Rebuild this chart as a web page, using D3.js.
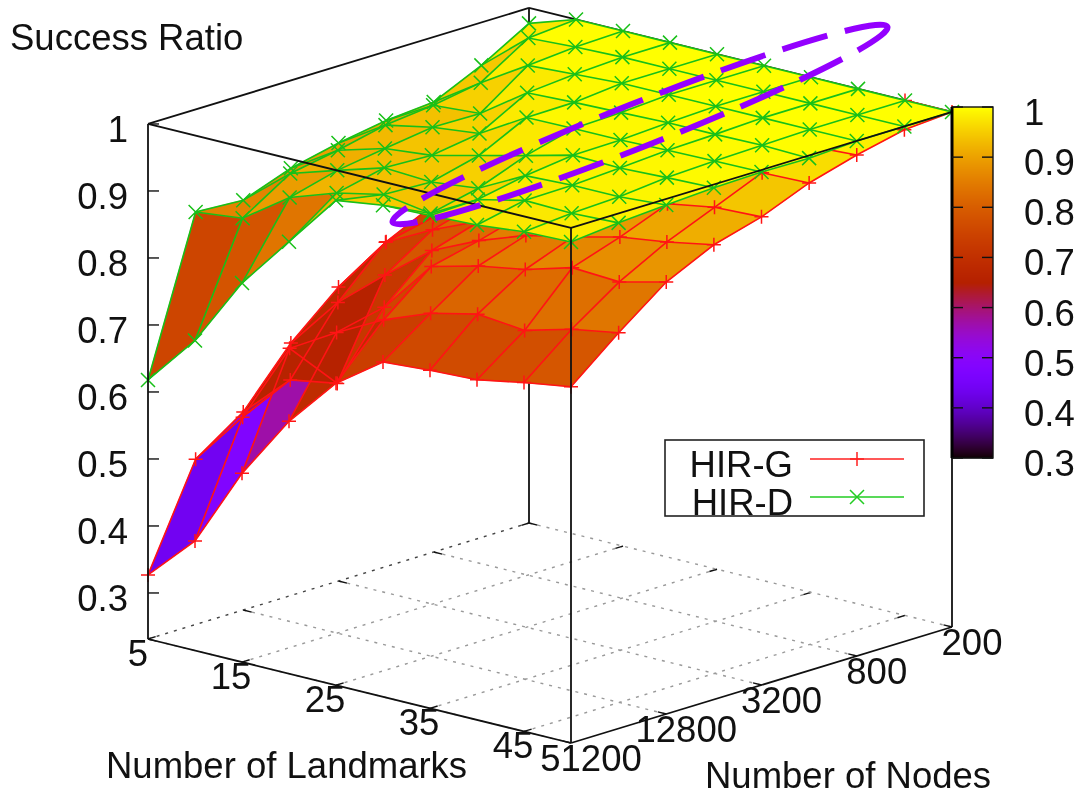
<!DOCTYPE html>
<html>
<head>
<meta charset="utf-8">
<script src="https://cdn.jsdelivr.net/npm/d3@7"></script>
<style>
  html, body { margin: 0; background: #fff; }
  svg { filter: blur(0.4px); }
  text { font-family: "Liberation Sans", Arial, sans-serif; fill: #111; font-size: 36.5px; }
</style>
</head>
<body>
<svg width="1087" height="801"></svg>
<script>
const landmarks = [5, 10, 15, 20, 25, 30, 35, 40, 45, 50]
const nodes = [51200, 25600, 12800, 6400, 3200, 1600, 800, 400, 200]

const landmarkTicks = [5, 15, 25, 35, 45]
const nodeTicks = [51200, 12800, 3200, 800, 200]
const zTicks = [0.3, 0.4, 0.5, 0.6, 0.7, 0.8, 0.9, 1]

// one row per landmark count, columns follow nodes
const hirG = [
  [0.327, 0.478, 0.527, 0.608, 0.670, 0.716, 0.750, 0.790, 0.830],
  [0.395, 0.558, 0.592, 0.686, 0.754, 0.770, 0.800, 0.840, 0.870],
  [0.513, 0.678, 0.604, 0.744, 0.790, 0.810, 0.840, 0.880, 0.910],
  [0.608, 0.719, 0.735, 0.798, 0.820, 0.840, 0.870, 0.900, 0.930],
  [0.682, 0.755, 0.813, 0.830, 0.850, 0.870, 0.900, 0.930, 0.950],
  [0.731, 0.782, 0.831, 0.855, 0.875, 0.900, 0.920, 0.950, 0.970],
  [0.736, 0.798, 0.843, 0.870, 0.890, 0.915, 0.940, 0.960, 0.980],
  [0.739, 0.791, 0.863, 0.887, 0.915, 0.940, 0.960, 0.975, 0.990],
  [0.752, 0.810, 0.859, 0.897, 0.927, 0.957, 0.975, 0.990, 1.000],
  [0.763, 0.822, 0.876, 0.910, 0.930, 0.959, 0.979, 0.995, 1.000]
]

const hirD = [
  [0.618, 0.847, 0.843, 0.869, 0.885, 0.897, 0.903, 0.936, 0.977],
  [0.694, 0.855, 0.900, 0.913, 0.929, 0.937, 0.949, 0.994, 1.000],
  [0.797, 0.903, 0.922, 0.933, 0.943, 0.942, 0.992, 0.998, 1.000],
  [0.876, 0.927, 0.943, 0.940, 0.951, 0.990, 0.996, 1.000, 1.000],
  [0.955, 0.942, 0.939, 0.957, 0.992, 0.993, 1.000, 1.000, 1.000],
  [0.965, 0.931, 0.947, 0.974, 0.993, 0.995, 1.000, 1.000, 1.000],
  [0.967, 0.969, 0.983, 0.992, 0.993, 0.997, 1.000, 1.000, 1.000],
  [0.970, 0.985, 0.986, 0.990, 0.995, 0.997, 1.000, 1.000, 1.000],
  [0.977, 0.983, 0.986, 0.993, 0.996, 0.998, 1.000, 1.000, 1.000],
  [0.979, 0.986, 0.991, 0.995, 0.997, 0.996, 1.000, 1.000, 1.000]
]

// cells (landmark row, node column) whose fill reads off the mean of their corners
const hirGFills = { '1,0': 0.48, '2,0': 0.57, '0,2': 0.66 }
const hirDFills = { '1,0': 0.783, '2,0': 0.84 }

const svg = d3.select('svg')

// corners of the floor on screen: left, front, back
const left = [148, 639]
const front = [571, 743]
const back = [529, 523]

const uScale = d3.scaleLinear().domain([5, 50]).range([0, 1])
const vScale = d3.scaleLog().base(2).domain([51200, 200]).range([0, 1])
const zScale = d3.scaleLinear().domain([0.3, 1]).range([0, 469])
const floorZ = 0.2313

// gnuplot's default pm3d palette
const palette = d3.scaleSequential(t => {
  const r = Math.sqrt(t)
  const g = t * t * t
  const b = Math.max(0, Math.sin(2 * Math.PI * t))
  return d3.rgb(r * 255, g * 255, b * 255).formatHex()
}).domain([0.3, 1])

const project = (l, n, z) => {
  const u = uScale(l)
  const v = vScale(n)
  return [
    left[0] + u * (front[0] - left[0]) + v * (back[0] - left[0]),
    left[1] + u * (front[1] - left[1]) + v * (back[1] - left[1]) - (zScale(z) - zScale(floorZ))
  ]
}

const boxLine = (g, a, b, width) => g.append('line')
  .attr('x1', a[0]).attr('y1', a[1])
  .attr('x2', b[0]).attr('y2', b[1])
  .attr('stroke', '#111')
  .attr('stroke-width', width || 1.8)

const dotted = (g, a, b, color) => g.append('line')
  .attr('x1', a[0]).attr('y1', a[1])
  .attr('x2', b[0]).attr('y2', b[1])
  .attr('stroke', color)
  .attr('stroke-width', 1.4)
  .attr('stroke-dasharray', '3 6')

const lMin = 5
const lMax = 50
const nMin = 200
const nMax = 51200
const tickLen = 0.02
const lStep = (lMax - lMin) * tickLen
const nShift = Math.pow(2, -8 * tickLen)

// floor grid and back of the box
const backGroup = svg.append('g')

landmarkTicks.forEach(l => {
  dotted(backGroup, project(l, nMax, floorZ), project(l, nMin, floorZ), l === lMin ? '#444' : '#999')
  boxLine(backGroup, project(l, nMin, floorZ), project(l, nMin / nShift, floorZ), 1.4)
})
nodeTicks.forEach(n => {
  dotted(backGroup, project(lMin, n, floorZ), project(lMax, n, floorZ), '#999')
  boxLine(backGroup, project(lMin, n, floorZ), project(lMin + lStep, n, floorZ), 1.4)
})

boxLine(backGroup, project(lMin, nMin, floorZ), project(lMin, nMin, 1))
boxLine(backGroup, project(lMin, nMax, 1), project(lMin, nMin, 1))
boxLine(backGroup, project(lMin, nMin, 1), project(lMax, nMin, 1))
boxLine(backGroup, project(lMax, nMin, floorZ), project(lMax, nMin, 1))

const drawMarker = (g, x, y, color, marker) => {
  const s = 7
  const d = marker === 'plus'
    ? `M${x - s},${y}H${x + s}M${x},${y - s}V${y + s}`
    : `M${x - s},${y - s}L${x + s},${y + s}M${x - s},${y + s}L${x + s},${y - s}`
  g.append('path').attr('d', d).attr('stroke', color).attr('stroke-width', 1.5).attr('fill', 'none')
}

// filled cells go scan by scan like pm3d, then the wires and markers on top
const drawSurface = (values, fills, color, marker) => {
  const g = svg.append('g')
  const quads = []
  d3.range(nodes.length - 1).forEach(j => {
    d3.range(landmarks.length - 1).forEach(i => {
      const corners = [[i, j], [i + 1, j], [i + 1, j + 1], [i, j + 1]]
      const pts = corners.map(c => project(landmarks[c[0]], nodes[c[1]], values[c[0]][c[1]]))
      const key = i + ',' + j
      const zFill = key in fills ? fills[key] : d3.mean(corners, c => values[c[0]][c[1]])
      quads.push({ pts, zFill })
    })
  })

  g.selectAll('path.quad').data(quads).join('path')
    .attr('class', 'quad')
    .attr('d', d => 'M' + d.pts.join('L') + 'Z')
    .attr('fill', d => palette(d.zFill))
    .attr('stroke', d => palette(d.zFill))
    .attr('stroke-width', 0.6)

  const wire = d3.line()
  landmarks.forEach((l, i) => {
    g.append('path')
      .attr('d', wire(nodes.map((n, j) => project(l, n, values[i][j]))))
      .attr('fill', 'none').attr('stroke', color).attr('stroke-width', 1.6)
  })
  nodes.forEach((n, j) => {
    g.append('path')
      .attr('d', wire(landmarks.map((l, i) => project(l, n, values[i][j]))))
      .attr('fill', 'none').attr('stroke', color).attr('stroke-width', 1.6)
  })
  landmarks.forEach((l, i) => {
    nodes.forEach((n, j) => {
      const p = project(l, n, values[i][j])
      drawMarker(g, p[0], p[1], color, marker)
    })
  })
}

drawSurface(hirG, hirGFills, '#ff1414', 'plus')
drawSurface(hirD, hirDFills, '#18c018', 'cross')

// front of the box sits over the surfaces
const frontGroup = svg.append('g')
boxLine(frontGroup, project(lMin, nMax, floorZ), project(lMin, nMax, 1))
boxLine(frontGroup, project(lMax, nMax, floorZ), project(lMax, nMax, 1))
boxLine(frontGroup, project(lMin, nMax, floorZ), project(lMax, nMax, floorZ))
boxLine(frontGroup, project(lMax, nMax, floorZ), project(lMax, nMin, floorZ))
boxLine(frontGroup, project(lMin, nMax, 1), project(lMax, nMax, 1))
boxLine(frontGroup, project(lMax, nMax, 1), project(lMax, nMin, 1))

// axis ticks and labels
landmarkTicks.forEach(l => {
  const p = project(l, nMax, floorZ)
  boxLine(frontGroup, p, project(l, nMax * nShift, floorZ), 1.4)
  frontGroup.append('text')
    .attr('x', l === lMin ? p[0] : p[0] - 11).attr('y', p[1] + 27)
    .attr('text-anchor', l === lMin ? 'end' : 'middle')
    .text(l)
})
nodeTicks.forEach(n => {
  const p = project(lMax, n, floorZ)
  boxLine(frontGroup, p, project(lMax - lStep, n, floorZ), 1.4)
  frontGroup.append('text')
    .attr('x', p[0] + 20).attr('y', p[1] + 28)
    .attr('text-anchor', 'middle')
    .text(n)
})
zTicks.forEach(z => {
  const p = project(lMin, nMax, z)
  boxLine(frontGroup, p, [p[0] + 11, p[1]], 1.4)
  frontGroup.append('text')
    .attr('x', p[0] - 20).attr('y', p[1] + 18)
    .attr('text-anchor', 'end')
    .text(z)
})

frontGroup.append('text').attr('x', 10).attr('y', 50).text('Success Ratio')
frontGroup.append('text').attr('x', 106).attr('y', 778).text('Number of Landmarks')
frontGroup.append('text').attr('x', 705).attr('y', 788).text('Number of Nodes')

// colour box
const cbX = 952
const cbW = 41
const cbScale = d3.scaleLinear().domain([0.3, 1]).range([458, 107])
const cb = svg.append('g')
d3.range(0, 351).forEach(k => {
  cb.append('rect')
    .attr('x', cbX).attr('y', 107 + k)
    .attr('width', cbW).attr('height', 1.4)
    .attr('fill', palette(cbScale.invert(107 + k)))
})
cb.append('rect').attr('x', cbX).attr('y', 107).attr('width', cbW).attr('height', 351)
  .attr('fill', 'none').attr('stroke', '#111').attr('stroke-width', 1.4)
cb.append('line').attr('x1', cbX).attr('x2', cbX).attr('y1', 107).attr('y2', 458)
  .attr('stroke', '#000').attr('stroke-width', 3)
zTicks.forEach(z => {
  const y = cbScale(z)
  cb.append('line').attr('x1', cbX).attr('x2', cbX + 11).attr('y1', y).attr('y2', y).attr('stroke', '#111').attr('stroke-width', 1.4)
  cb.append('line').attr('x1', cbX + cbW - 11).attr('x2', cbX + cbW).attr('y1', y).attr('y2', y).attr('stroke', '#111').attr('stroke-width', 1.4)
  cb.append('text')
    .attr('x', 1024).attr('y', y + 18)
    .text(z)
})

// legend
const legend = svg.append('g')
legend.append('rect').attr('x', 665).attr('y', 440).attr('width', 259).attr('height', 76)
  .attr('fill', 'none').attr('stroke', '#222').attr('stroke-width', 1.6)
const legendRows = [
  { label: 'HIR-G', color: '#ff2020', marker: 'plus', y: 459, base: 477 },
  { label: 'HIR-D', color: '#22cc22', marker: 'cross', y: 497, base: 515 }
]
legendRows.forEach(r => {
  legend.append('text').attr('x', 793).attr('y', r.base).attr('text-anchor', 'end').text(r.label)
  legend.append('line').attr('x1', 810).attr('x2', 904).attr('y1', r.y).attr('y2', r.y)
    .attr('stroke', r.color).attr('stroke-width', 1.5)
  drawMarker(legend, 857, r.y, r.color, r.marker)
})

// hand drawn highlight around the flat part
svg.append('ellipse')
  .attr('rx', 266).attr('ry', 22)
  .attr('transform', 'translate(640,124.5) rotate(-21.55)')
  .attr('fill', 'none')
  .attr('stroke', '#9400ff')
  .attr('stroke-width', 6)
  .attr('stroke-dasharray', '47 18')
  .attr('stroke-dashoffset', 8)
</script>
</body>
</html>
